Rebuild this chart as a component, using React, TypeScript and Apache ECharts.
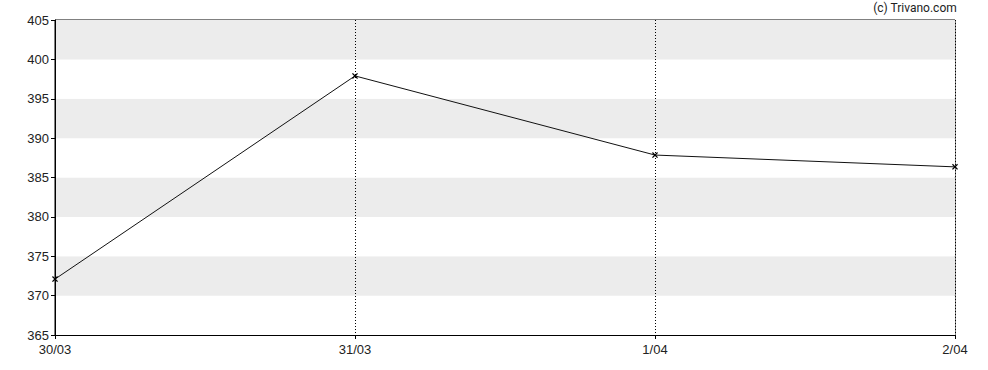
import React, { useEffect, useRef } from "react";
import * as echarts from "echarts";

const categories = ["30/03", "31/03", "1/04", "2/04"];
const values = [372.1, 397.9, 387.85, 386.35];
const yMin = 365;
const yMax = 405;
const yInterval = 5;
const credit = "(c) Trivano.com";

const cross =
  "path://M0,1.5L1.5,0L5,3.5L8.5,0L10,1.5L6.5,5L10,8.5L8.5,10L5,6.5L1.5,10L0,8.5L3.5,5Z";

export default function App() {
  const ref = useRef<HTMLDivElement>(null);
  useEffect(() => {
    if (!ref.current) return;
    const chart = echarts.init(ref.current, null, { renderer: "svg" });
    chart.setOption({
      animation: false,
      grid: {
        left: 55,
        right: 33,
        top: 20,
        bottom: 35,
        show: true,
        borderColor: "#000",
        borderWidth: 1,
        backgroundColor: "transparent",
      },
      graphic: [
        {
          type: "text",
          right: 31,
          top: 2,
          style: {
            text: credit,
            font: "12px Roboto",
            fill: "#222",
          },
        },
      ],
      xAxis: {
        type: "category",
        data: categories,
        boundaryGap: false,
        axisLine: { lineStyle: { color: "#000", width: 1 } },
        axisTick: { show: true, length: 4, lineStyle: { color: "#000" } },
        axisLabel: {
          color: "#222",
          fontFamily: "Liberation Sans",
          fontSize: 13,
          margin: 8,
        },
        splitLine: {
          show: true,
          lineStyle: { color: "#000", type: [1, 2], width: 1 },
        },
      },
      yAxis: {
        type: "value",
        min: yMin,
        max: yMax,
        interval: yInterval,
        axisLine: { show: true, lineStyle: { color: "#000", width: 1 } },
        axisTick: { show: true, length: 4, lineStyle: { color: "#000" } },
        axisLabel: {
          color: "#222",
          fontFamily: "Liberation Sans",
          fontSize: 13,
          margin: 6,
        },
        splitLine: { show: false },
        splitArea: {
          show: true,
          areaStyle: { color: ["#ffffff", "#ececec"] },
        },
      },
      series: [
        {
          type: "line",
          data: values,
          symbol: cross,
          symbolSize: 6,
          showSymbol: true,
          lineStyle: { color: "#111", width: 1 },
          itemStyle: { color: "#000" },
        },
      ],
    });
    return () => chart.dispose();
  }, []);
  return (
    <div
      ref={ref}
      style={{ position: "absolute", left: 0, top: 0, width: 988, height: 370 }}
    />
  );
}
